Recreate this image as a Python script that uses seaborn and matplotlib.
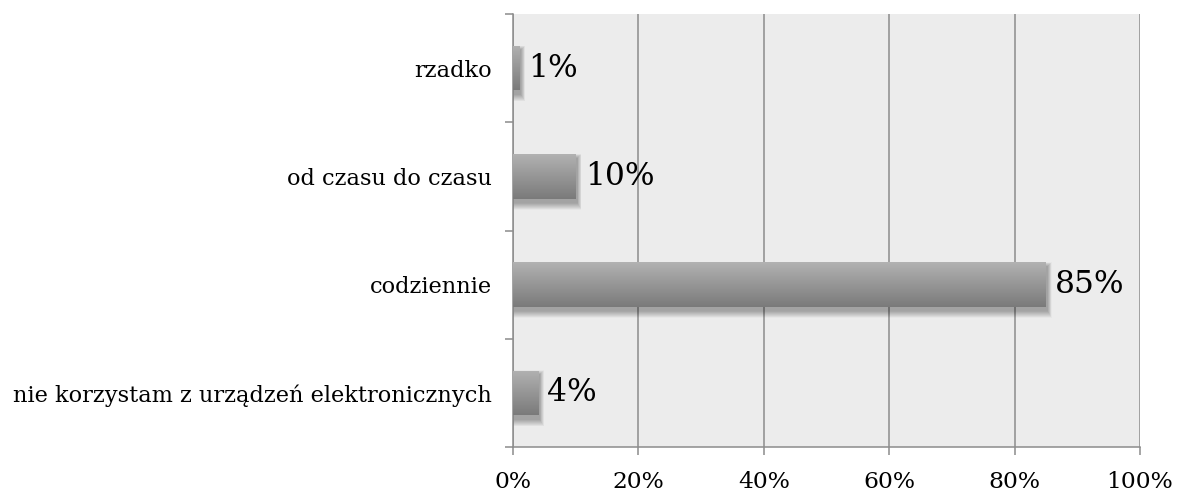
import numpy as np
import pandas as pd
import matplotlib
matplotlib.use("Agg")
import matplotlib.pyplot as plt
import seaborn as sns
from matplotlib.ticker import FixedLocator, PercentFormatter
from matplotlib.patches import Rectangle

# Survey answers (top to bottom) and their shares in percent
categories = ["rzadko", "od czasu do czasu", "codziennie",
              "nie korzystam z urządzeń elektronicznych"]
shares = [1, 10, 85, 4]
x_ticks = [0, 20, 40, 60, 80, 100]

df = pd.DataFrame({"odpowiedz": categories, "udzial": shares})

sns.set_theme(style="white")
plt.rcParams["font.family"] = ["DejaVu Serif"]

fig = plt.figure(figsize=(11.77, 4.94), dpi=100)
ax = fig.add_axes([0.4359, 0.0951, 0.5327, 0.8766])
ax.set_facecolor("#ececec")

sns.barplot(data=df, x="udzial", y="odpowiedz", orient="h", width=0.41,
            color="#999999", edgecolor="none", ax=ax, zorder=3)

ax.set_xlabel("")
ax.set_ylabel("")

# vertical gridlines
ax.xaxis.set_major_locator(FixedLocator(x_ticks))
ax.xaxis.set_major_formatter(PercentFormatter(decimals=0))
ax.grid(axis="x", color="#8c8c8c", linewidth=1.1, zorder=1)
ax.grid(axis="y", visible=False)
ax.set_axisbelow(True)

# spines
for side in ["top", "right"]:
    ax.spines[side].set_visible(False)
for side in ["left", "bottom"]:
    ax.spines[side].set_color("#8c8c8c")
    ax.spines[side].set_linewidth(1.1)

# y ticks sit on category boundaries, labels in the middle
ax.yaxis.set_minor_locator(FixedLocator(np.arange(-0.5, len(categories), 1.0)))
ax.tick_params(axis="y", which="major", length=0, pad=15, labelsize=16.2,
               labelcolor="black")
ax.tick_params(axis="y", which="minor", length=6, width=1.1, color="#8c8c8c",
               left=True)
ax.tick_params(axis="x", which="major", length=6, width=1.1, color="#8c8c8c",
               bottom=True, pad=11, labelsize=16.8, labelcolor="black")

ax.set_xlim(0, 100)
ax.set_ylim(len(categories) - 0.5, -0.5)

# pixel sizes in data units, for the soft drop shadow
px_x = 100 / (ax.get_position().width * fig.get_figwidth() * fig.dpi)
px_y = len(categories) / (ax.get_position().height * fig.get_figheight() * fig.dpi)

grad = np.linspace(0, 1, 256).reshape(-1, 1)
cmap = matplotlib.colors.LinearSegmentedColormap.from_list(
    "bar", ["#b2b2b2", "#7a7a7a"])
n_layers = 14
blur = 7
for patch, val in zip(ax.patches, shares):
    x0, y0 = patch.get_x(), patch.get_y()
    w, h = patch.get_width(), patch.get_height()
    # blurred shadow: stacked translucent rectangles, growing outward
    for k in range(n_layers):
        r = blur * (k + 1) / n_layers
        sh = Rectangle((x0 + (1.5 - 0.5 * r) * px_x, y0 + (4 - 0.6 * r) * px_y),
                       w + 1.1 * r * px_x, h + 1.6 * r * px_y,
                       facecolor="black", alpha=0.023,
                       edgecolor="none", zorder=2)
        ax.add_patch(sh)
    im = ax.imshow(grad, aspect="auto", cmap=cmap,
                   extent=(x0, x0 + w, y0 + h, y0), zorder=4)
    im.set_clip_path(patch)
    ax.annotate(f"{val}%", xy=(x0 + w, y0 + h / 2), xytext=(6.5, 0),
                textcoords="offset points", va="center", ha="left",
                fontsize=22.5, color="black", zorder=5)

ax.set_xlim(0, 100)
ax.set_ylim(len(categories) - 0.5, -0.5)

fig.savefig("out.png", dpi=100, facecolor="white")
